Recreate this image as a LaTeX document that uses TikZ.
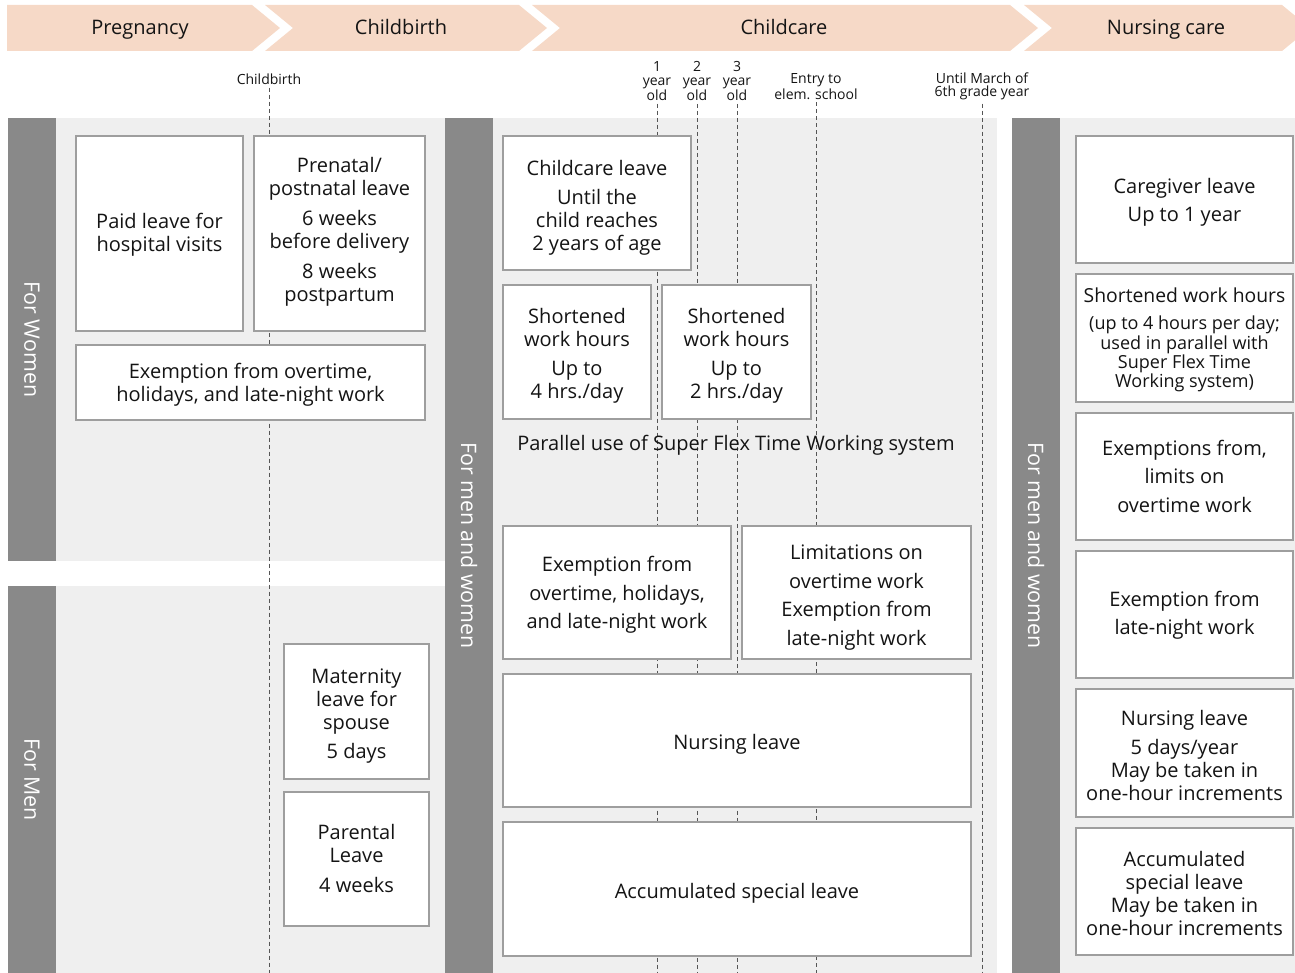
\documentclass[tikz,border=0pt]{standalone}
\usepackage{fontspec}
\setmainfont{Open Sans}

\definecolor{peach}{RGB}{246,217,199}
\definecolor{panelgray}{RGB}{239,239,239}
\definecolor{stripgray}{RGB}{137,137,137}
\definecolor{boxline}{RGB}{158,158,158}
\definecolor{tickline}{RGB}{85,85,85}
\definecolor{inktext}{RGB}{20,20,20}

\tikzset{every picture/.style={line width=0.75pt}}
\tikzset{
	phase/.style={fill=peach, draw=none},
	phasetext/.style={inner sep=0.75pt, anchor=base, text=inktext, font=\fontsize{15}{17}\selectfont},
	panel/.style={fill=panelgray, draw=none},
	strip/.style={fill=stripgray, draw=none},
	sidetext/.style={inner sep=0.75pt, text=white, rotate=-90, font=\fontsize{16}{18}\selectfont},
	box/.style={fill=white, draw=boxline, line width=1.5pt},
	txt/.style={inner sep=0.75pt, align=center, text=inktext, font=\fontsize{15}{17.25}\selectfont},
	ticktext/.style={inner sep=2pt, align=center, text=inktext, font=\fontsize{10.5}{10.2}\selectfont},
	tick/.style={draw=tickline, dash pattern={on 3pt off 2.25pt}}
}

\begin{document}
\begin{tikzpicture}[x=0.75pt,y=0.75pt,yscale=-1,xscale=1]
	\useasboundingbox (0,0) rectangle (1295,973);
	\clip (0,0) rectangle (1295,973);
	
	%Shape: Chevron [id:phPregnancy] 
	\draw [phase] (7,5) -- (252,5) -- (280,28) -- (252,51) -- (7,51) -- cycle ;
	%Shape: Chevron [id:phChildbirth] 
	\draw [phase] (265,5) -- (519,5) -- (547,28) -- (519,51) -- (265,51) -- (293,28) -- cycle ;
	%Shape: Chevron [id:phChildcare] 
	\draw [phase] (532,5) -- (1010,5) -- (1038,28) -- (1010,51) -- (532,51) -- (560,28) -- cycle ;
	%Shape: Chevron [id:phNursing] 
	\draw [phase] (1024,5) -- (1282,5) -- (1310,28) -- (1282,51) -- (1024,51) -- (1052,28) -- cycle ;
	
	% Text Node
	\node (pPregnancy) at (140,35) [phasetext] {Pregnancy};
	% Text Node
	\node (pChildbirth) at (401,35) [phasetext] {Childbirth};
	% Text Node
	\node (pChildcare) at (784,35) [phasetext] {Childcare};
	% Text Node
	\node (pNursing) at (1166,35) [phasetext] {Nursing care};
	
	%Shape: Rectangle [id:bgWomen] 
	\draw [strip] (8,118) rectangle (56,561) ;
	\draw [panel] (56,118) rectangle (445,561) ;
	%Shape: Rectangle [id:bgMen] 
	\draw [strip] (8,586) rectangle (56,973) ;
	\draw [panel] (56,586) rectangle (445,973) ;
	%Shape: Rectangle [id:bgBoth] 
	\draw [strip] (445,118) rectangle (493,973) ;
	\draw [panel] (493,118) rectangle (997,973) ;
	%Shape: Rectangle [id:bgCare] 
	\draw [strip] (1012,118) rectangle (1060,973) ;
	\draw [panel] (1060,118) rectangle (1295,973) ;
	
	% Text Node
	\node (sWomen) at (32,339.5) [sidetext] {For Women};
	% Text Node
	\node (sMen) at (32,779.5) [sidetext] {For Men};
	% Text Node
	\node (sBoth) at (469,545.5) [sidetext] {For men and women};
	% Text Node
	\node (sCare) at (1036,545.5) [sidetext] {For men and women};
	
	% Timeline labels
	\coordinate (bottom) at (0,973);
	\node (tBirth) at (269,79) [ticktext] {Childbirth};
	\node (tOne) at (657,81) [ticktext] {1\\year\\old};
	\node (tTwo) at (697,81) [ticktext] {2\\year\\old};
	\node (tThree) at (737,81) [ticktext] {3\\year\\old};
	\node (tSchool) at (816,86.5) [ticktext] {Entry to\\elem. school};
	\node (tSixth) at (982,86.5) [ticktext] {Until March of\\6th grade year};
	
	%Straight Lines [id:dashed guides] 
	\draw [tick] (tBirth.south) -- (tBirth.south |- bottom) ;
	\draw [tick] (tOne.south) -- (tOne.south |- bottom) ;
	\draw [tick] (tTwo.south) -- (tTwo.south |- bottom) ;
	\draw [tick] (tThree.south) -- (tThree.south |- bottom) ;
	\draw [tick] (tSchool.south) -- (tSchool.south |- bottom) ;
	\draw [tick] (tSixth.south) -- (tSixth.south |- bottom) ;
	
	%Shape: Rectangle [id:hospital] 
	\draw [box] (76,136) rectangle (243,331) ;
	% Text Node
	\node (hosp) at (159.5,234.5) [txt] {Paid leave for\\hospital visits};
	%Shape: Rectangle [id:prenatal] 
	\draw [box] (254,136) rectangle (425,331) ;
	% Text Node
	\node (prenat) at (339.5,231.5) [txt] {Prenatal/\\postnatal leave\\[5.25pt]6 weeks\\before delivery\\[5.25pt]8 weeks\\postpartum};
	%Shape: Rectangle [id:exemptWomen] 
	\draw [box] (76,345) rectangle (425,420) ;
	% Text Node
	\node (exW) at (250.5,384.5) [txt] {Exemption from overtime,\\holidays, and late-night work};
	
	%Shape: Rectangle [id:spouse] 
	\draw [box] (284,644) rectangle (429,779) ;
	% Text Node
	\node (mat) at (356.5,716.5) [txt] {Maternity\\leave for\\spouse\\[4.5pt]5 days};
	%Shape: Rectangle [id:parental] 
	\draw [box] (284,792) rectangle (429,926) ;
	% Text Node
	\node (par) at (356.5,858.5) [txt] {Parental\\Leave\\[5.25pt]4 weeks};
	
	%Shape: Rectangle [id:childcare] 
	\draw [box] (503,136) rectangle (691,270) ;
	% Text Node
	\node (ccl) at (597,207.5) [txt] {Childcare leave\\[4.5pt]Until the\\child reaches\\2 years of age};
	%Shape: Rectangle [id:short4] 
	\draw [box] (503,285) rectangle (651,419) ;
	% Text Node
	\node (sh4) at (577,355.5) [txt] {Shortened\\work hours\\[4.5pt]Up to\\4 hrs./day};
	%Shape: Rectangle [id:short2] 
	\draw [box] (662,285) rectangle (811,419) ;
	% Text Node
	\node (sh2) at (736.5,355.5) [txt] {Shortened\\work hours\\[4.5pt]Up to\\2 hrs./day};
	% Text Node
	\node (flex) at (736,445) [txt] {Parallel use of Super Flex Time Working system};
	%Shape: Rectangle [id:exemptBoth] 
	\draw [box] (503,526) rectangle (731,659) ;
	% Text Node
	\node (exM) at (617,595) [txt] {Exemption from\\[4.1pt]overtime, holidays,\\[4.1pt]and late-night work};
	%Shape: Rectangle [id:limits] 
	\draw [box] (742,526) rectangle (971,659) ;
	% Text Node
	\node (lim) at (856.5,597.5) [txt] {Limitations on\\[4.1pt]overtime work\\[4.1pt]Exemption from\\[4.1pt]late-night work};
	%Shape: Rectangle [id:nursing] 
	\draw [box] (503,674) rectangle (971,807) ;
	% Text Node
	\node (nurse) at (737,744) [txt] {Nursing leave};
	%Shape: Rectangle [id:accumulated] 
	\draw [box] (503,822) rectangle (971,956) ;
	% Text Node
	\node (accum) at (737,893) [txt] {Accumulated special leave};
	
	%Shape: Rectangle [id:caregiver] 
	\draw [box] (1076,136) rectangle (1293,263) ;
	% Text Node
	\node (care) at (1184.5,202) [txt] {Caregiver leave\\[4pt]Up to 1 year};
	%Shape: Rectangle [id:shortCare] 
	\draw [box] (1076,274) rectangle (1293,402) ;
	% Text Node
	\node (shR) at (1184.5,340) [txt] {{\fontsize{14.5}{17.25}\selectfont Shortened work hours}\\[3pt]{\fontsize{13.5}{14.25}\selectfont (up to 4 hours per day;}\\[-2.9pt]{\fontsize{13.5}{14.25}\selectfont used in parallel with}\\[-2.9pt]{\fontsize{13.5}{14.25}\selectfont Super Flex Time}\\[-2.9pt]{\fontsize{13.5}{14.25}\selectfont Working system)}};
	%Shape: Rectangle [id:exemptCare] 
	\draw [box] (1076,413) rectangle (1293,540) ;
	% Text Node
	\node (exR) at (1184.5,476) [txt] {Exemptions from,\\[4.1pt]limits on\\[4.1pt]overtime work};
	%Shape: Rectangle [id:lateCare] 
	\draw [box] (1076,551) rectangle (1293,678) ;
	% Text Node
	\node (lateR) at (1184.5,615) [txt] {Exemption from\\[4.1pt]late-night work};
	%Shape: Rectangle [id:nursingCare] 
	\draw [box] (1076,689) rectangle (1293,817) ;
	% Text Node
	\node (nurseR) at (1184.5,755.5) [txt] {Nursing leave\\[4pt]5 days/year\\May be taken in\\one-hour increments};
	%Shape: Rectangle [id:accumCare] 
	\draw [box] (1076,828) rectangle (1293,955) ;
	% Text Node
	\node (accumR) at (1184.5,893) [txt] {Accumulated\\special leave\\May be taken in\\one-hour increments};
	
\end{tikzpicture}
\end{document}
